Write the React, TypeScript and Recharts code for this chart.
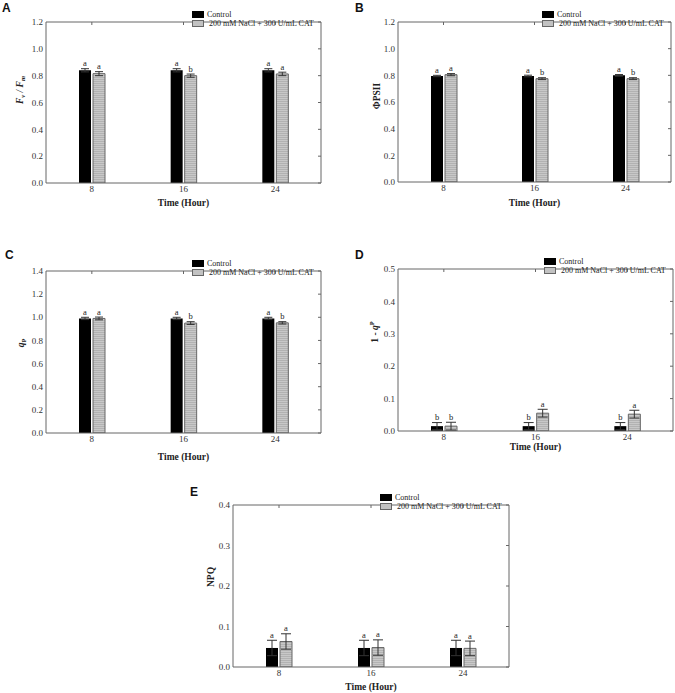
import React from 'react';
import { BarChart, Bar, XAxis, YAxis, ErrorBar, LabelList, Legend } from 'recharts';

const times = ['8', '16', '24'];

// Panel A: Fv/Fm
const fvfmControl = [0.84, 0.84, 0.84];
const fvfmControlErr = [0.012, 0.012, 0.012];
const fvfmCat = [0.815, 0.8, 0.813];
const fvfmCatErr = [0.015, 0.012, 0.013];
const fvfmControlLetters = ['a', 'a', 'a'];
const fvfmCatLetters = ['a', 'b', 'a'];

// Panel B: ΦPSII
const psiiControl = [0.795, 0.795, 0.8];
const psiiControlErr = [0.005, 0.006, 0.006];
const psiiCat = [0.805, 0.775, 0.775];
const psiiCatErr = [0.008, 0.007, 0.007];
const psiiControlLetters = ['a', 'a', 'a'];
const psiiCatLetters = ['a', 'b', 'b'];

// Panel C: qP
const qpControl = [0.99, 0.99, 0.99];
const qpControlErr = [0.01, 0.01, 0.01];
const qpCat = [0.99, 0.95, 0.952];
const qpCatErr = [0.012, 0.012, 0.01];
const qpControlLetters = ['a', 'a', 'a'];
const qpCatLetters = ['a', 'b', 'b'];

// Panel D: 1 - qP
const oneMinusQpControl = [0.015, 0.015, 0.015];
const oneMinusQpControlErr = [0.011, 0.011, 0.011];
const oneMinusQpCat = [0.015, 0.055, 0.052];
const oneMinusQpCatErr = [0.012, 0.012, 0.012];
const oneMinusQpControlLetters = ['b', 'b', 'b'];
const oneMinusQpCatLetters = ['b', 'a', 'a'];

// Panel E: NPQ
const npqControl = [0.047, 0.047, 0.047];
const npqControlErr = [0.019, 0.019, 0.019];
const npqCat = [0.063, 0.048, 0.046];
const npqCatErr = [0.019, 0.019, 0.018];
const npqControlLetters = ['a', 'a', 'a'];
const npqCatLetters = ['a', 'a', 'a'];

const ticks12 = [0, 0.2, 0.4, 0.6, 0.8, 1.0, 1.2];
const ticks14 = [0, 0.2, 0.4, 0.6, 0.8, 1.0, 1.2, 1.4];
const ticks05 = [0, 0.1, 0.2, 0.3, 0.4, 0.5];
const ticks04 = [0, 0.1, 0.2, 0.3, 0.4];

const seriesNames = ['Control', '200 mM NaCl + 300 U/mL CAT'];

const SERIF = '"Liberation Serif", "Times New Roman", serif';
const SANS = '"Liberation Sans", Arial, sans-serif';
const AXIS = '#666';

function buildRows(ctrl: number[], ctrlErr: number[], cat: number[], catErr: number[]) {
  return times.map((t, i) => ({ time: t, ctrl: ctrl[i], ctrlErr: ctrlErr[i], cat: cat[i], catErr: catErr[i] }));
}

const makeLetterLabel = (letters: string[], errs: number[]) => (props: any) => {
  const vb = props.viewBox && props.viewBox.width !== undefined ? props.viewBox : props;
  const { x, y, width, height } = vb;
  const value = Number(props.value);
  const index = props.index ?? 0;
  const pxPerUnit = value ? height / value : 0;
  const top = y - errs[index] * pxPerUnit;
  return (
    <text x={x + width / 2} y={top - 2.5} textAnchor="middle" fontSize={8.5} fill="#222" fontFamily={SERIF}>
      {letters[index]}
    </text>
  );
};

const LegendBox = () => (
  <div style={{ fontFamily: SERIF, fontSize: 8, color: '#222', lineHeight: '9px' }}>
    <div style={{ display: 'flex', alignItems: 'center', height: 9 }}>
      <span style={{ display: 'inline-block', width: 12, height: 7, background: '#000', marginRight: 3 }} />
      <span>{seriesNames[0]}</span>
    </div>
    <div style={{ display: 'flex', alignItems: 'center', height: 9 }}>
      <span style={{ display: 'inline-block', width: 12, height: 7, background: '#c2c2c2', border: '1px solid #666', boxSizing: 'border-box', marginRight: 5 }} />
      <span style={{ whiteSpace: 'nowrap' }}>{seriesNames[1]}</span>
    </div>
  </div>
);

type PanelProps = {
  id: string;
  L: number; R: number; T: number; B: number;
  max: number; ticks: number[];
  ctrl: number[]; ctrlErr: number[]; cat: number[]; catErr: number[];
  ctrlLetters: string[]; catLetters: string[];
  titleBaseline: number;
  capHalf: number;
};

function Panel(p: PanelProps) {
  const plotW = p.R - p.L;
  const plotH = p.B - p.T;
  const width = plotW + 46 + 10;
  const height = plotH + 5 + 35;
  const data = buildRows(p.ctrl, p.ctrlErr, p.cat, p.catErr);
  const patId = `stripe-${p.id}`;
  return (
    <div style={{ position: 'absolute', left: p.L - 46, top: p.T - 5, width, height }}>
      <BarChart width={width} height={height} data={data} margin={{ top: 4, right: 9, left: 6, bottom: 0 }} barSize={12} barGap={2}>
        <defs>
          <pattern id={patId} width="4" height="2" patternUnits="userSpaceOnUse">
            <rect x="0" y="0" width="4" height="2" fill="#c8c8c8" />
            <rect x="0" y="1" width="4" height="1" fill="#b2b2b2" />
          </pattern>
        </defs>
        <XAxis
          xAxisId="b"
          dataKey="time"
          height={35}
          axisLine={{ stroke: AXIS }}
          tickLine={false}
          tickSize={0}
          tickMargin={3}
          tick={{ fontSize: 9, fill: '#333', fontFamily: SERIF }}
          label={{ value: 'Time (Hour)', position: 'insideBottom', offset: 35 - p.titleBaseline, style: { fontSize: 9.5, fontWeight: 'bold', fill: '#222', fontFamily: SERIF } }}
        />
        <XAxis
          xAxisId="t"
          dataKey="time"
          orientation="top"
          height={1}
          mirror
          tickSize={3}
          axisLine={{ stroke: AXIS }}
          tickLine={{ stroke: AXIS }}
          tickFormatter={() => ''}
        />
        <YAxis
          yAxisId="l"
          type="number"
          domain={[0, p.max]}
          ticks={p.ticks}
          allowDataOverflow
          width={40}
          axisLine={{ stroke: AXIS }}
          tickLine={false}
          tickSize={0}
          tickMargin={3}
          tick={{ fontSize: 9, fill: '#333', fontFamily: SERIF }}
          tickFormatter={(v: number) => v.toFixed(1)}
        />
        <YAxis
          yAxisId="r"
          orientation="right"
          type="number"
          domain={[0, p.max]}
          ticks={p.ticks}
          allowDataOverflow
          width={1}
          mirror
          tickSize={3}
          axisLine={{ stroke: AXIS }}
          tickLine={{ stroke: AXIS }}
          tickFormatter={() => ''}
        />
        <Legend
          verticalAlign="top"
          align="right"
          content={<LegendBox />}
          wrapperStyle={{ top: 10, left: 46 + plotW - 128, width: 130, right: 'auto' }}
        />
        <Bar xAxisId="b" yAxisId="l" dataKey="ctrl" name={seriesNames[0]} fill="#000" isAnimationActive={false}>
          <ErrorBar dataKey="ctrlErr" width={p.capHalf} stroke="#333" strokeWidth={1} direction="y" />
          <LabelList dataKey="ctrl" content={makeLetterLabel(p.ctrlLetters, p.ctrlErr)} />
        </Bar>
        <Bar xAxisId="b" yAxisId="l" dataKey="cat" name={seriesNames[1]} fill={`url(#${patId})`} stroke="#666" strokeWidth={1} isAnimationActive={false}>
          <ErrorBar dataKey="catErr" width={p.capHalf} stroke="#333" strokeWidth={1} direction="y" />
          <LabelList dataKey="cat" content={makeLetterLabel(p.catLetters, p.catErr)} />
        </Bar>
      </BarChart>
    </div>
  );
}

const letterStyle = (left: number, top: number): React.CSSProperties => ({
  position: 'absolute', left, top, fontFamily: SANS, fontWeight: 'bold', fontSize: 12, color: '#111', lineHeight: '12px',
});

const yTitleStyle = (cx: number, cy: number): React.CSSProperties => ({
  position: 'absolute', left: cx, top: cy, transform: 'translate(-50%, -50%) rotate(-90deg)',
  fontFamily: SERIF, fontWeight: 'bold', fontSize: 9.5, color: '#222', whiteSpace: 'nowrap', lineHeight: '12px',
});

const subStyle: React.CSSProperties = { fontSize: 6.5, verticalAlign: '-2px' };
const supStyle: React.CSSProperties = { fontSize: 6.5, verticalAlign: '4px' };

export default function App() {
  return (
    <div style={{ position: 'absolute', left: 0, top: 0, width: 675, height: 693, background: '#fff', overflow: 'hidden' }}>
      <Panel id="A" L={46} R={320} T={5} B={183} max={1.2} ticks={ticks12}
        ctrl={fvfmControl} ctrlErr={fvfmControlErr} cat={fvfmCat} catErr={fvfmCatErr}
        ctrlLetters={fvfmControlLetters} catLetters={fvfmCatLetters} titleBaseline={23} capHalf={4} />
      <Panel id="B" L={398} R={670} T={5} B={182} max={1.2} ticks={ticks12}
        ctrl={psiiControl} ctrlErr={psiiControlErr} cat={psiiCat} catErr={psiiCatErr}
        ctrlLetters={psiiControlLetters} catLetters={psiiCatLetters} titleBaseline={24} capHalf={4} />
      <Panel id="C" L={46} R={320} T={254} B={433} max={1.4} ticks={ticks14}
        ctrl={qpControl} ctrlErr={qpControlErr} cat={qpCat} catErr={qpCatErr}
        ctrlLetters={qpControlLetters} catLetters={qpCatLetters} titleBaseline={27} capHalf={4} />
      <Panel id="D" L={398} R={672} T={252} B={431} max={0.5} ticks={ticks05}
        ctrl={oneMinusQpControl} ctrlErr={oneMinusQpControlErr} cat={oneMinusQpCat} catErr={oneMinusQpCatErr}
        ctrlLetters={oneMinusQpControlLetters} catLetters={oneMinusQpCatLetters} titleBaseline={19} capHalf={5} />
      <Panel id="E" L={233} R={508} T={488} B={667} max={0.4} ticks={ticks04}
        ctrl={npqControl} ctrlErr={npqControlErr} cat={npqCat} catErr={npqCatErr}
        ctrlLetters={npqControlLetters} catLetters={npqCatLetters} titleBaseline={23} capHalf={5} />

      <div style={letterStyle(2, 2)}>A</div>
      <div style={letterStyle(355, 2)}>B</div>
      <div style={letterStyle(5, 249)}>C</div>
      <div style={letterStyle(355, 249)}>D</div>
      <div style={letterStyle(190, 486)}>E</div>

      <div style={yTitleStyle(21, 90)}>
        <i>F</i><span style={subStyle}><i>v</i></span><i> / F</i><span style={subStyle}><i>m</i></span>
      </div>
      <div style={yTitleStyle(377, 96)}>ΦPSII</div>
      <div style={yTitleStyle(22, 343)}>
        <i>q</i><span style={subStyle}>P</span>
      </div>
      <div style={yTitleStyle(373, 332)}>
        1 - <i>q</i><span style={supStyle}>P</span>
      </div>
      <div style={yTitleStyle(211, 577)}>NPQ</div>
    </div>
  );
}
